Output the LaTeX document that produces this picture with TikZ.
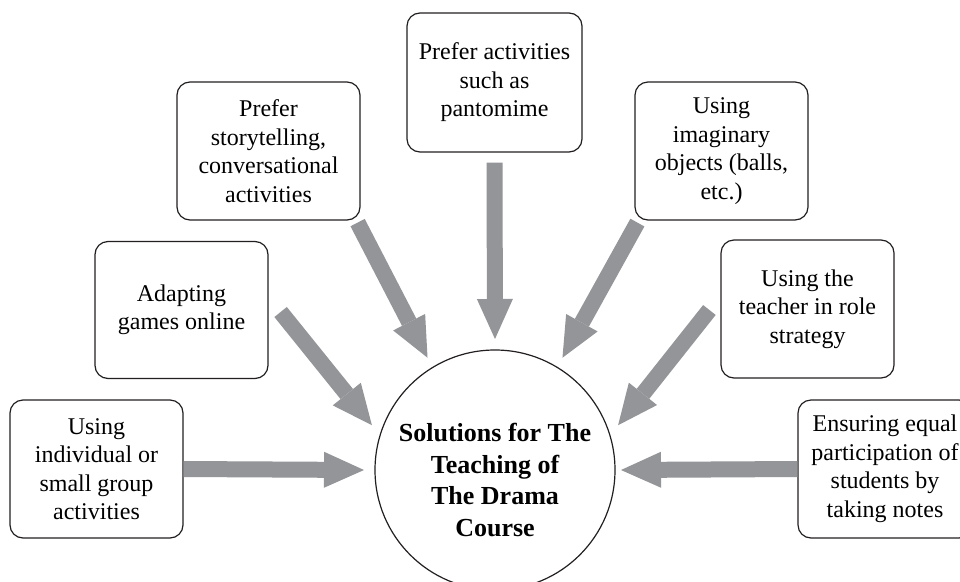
\documentclass[tikz,border=0pt]{standalone}
\usepackage{fontspec}
\setmainfont{Liberation Serif}
\newfontfamily\boxfont{Liberation Serif}
\usetikzlibrary{arrows.meta}
\definecolor{arrowgray}{HTML}{939598}
\definecolor{linedark}{HTML}{231F20}
\begin{document}
\begin{tikzpicture}[x=1pt,y=-1pt,
  box/.style={draw=linedark, line width=1.2pt, rounded corners=13pt, fill=white,
    align=center, inner sep=0pt, font=\boxfont\fontsize{24}{28.5}\selectfont},
  hub/.style={draw=linedark, line width=1.2pt, circle, minimum size=240pt, inner sep=0pt, outer sep=11pt},
  hubtext/.style={align=center, inner sep=0pt, font=\boxfont\bfseries\fontsize{26}{31.5}\selectfont},
  bigarrow/.style={draw=arrowgray, line width=16pt,
    -{Triangle[length=40pt,width=36pt,line width=0pt]}}]
\useasboundingbox (0,0) rectangle (960,581);
\fill[white] (0,0) rectangle (960,581);

\node[hub] (c) at (495,470) {};
\node[hubtext] (ct) at (495,480) {Solutions for The\\Teaching of\\The Drama\\Course};

\node[box, minimum width=173pt, minimum height=138pt] (b1) at (96.5,469) {Using\\individual or\\small group\\activities};
\node[box, minimum width=173pt, minimum height=137pt] (b2) at (181.5,310) {Adapting\\games online};
\node[box, minimum width=183pt, minimum height=138pt] (b3) at (268.5,151) {Prefer\\storytelling,\\conversational\\activities};
\node[box, minimum width=175pt, minimum height=139pt] (b4) at (494.5,82.5) {Prefer activities\\such as\\pantomime};
\node[box, minimum width=173pt, minimum height=138pt] (b5) at (721.5,151) {Using\\imaginary\\objects (balls,\\etc.)};
\node[box, minimum width=173pt, minimum height=138pt] (b6) at (807.5,309) {Using the\\teacher in role\\strategy};
\node[box, minimum width=174pt, minimum height=138pt] (b7) at (885,469) {Ensuring equal\\participation of\\students by\\taking notes};

\draw[bigarrow] (b1.east) -- (c.180);
\draw[bigarrow] ([shift={(12,2)}]b2.east) -- (c.160);
\draw[bigarrow] ([shift={(-3,2)}]b3.south east) -- (c.121);
\draw[bigarrow] ([shift={(0,10)}]b4.south) -- (c.90);
\draw[bigarrow] ([shift={(3,2)}]b5.south west) -- (c.59);
\draw[bigarrow] ([shift={(-11,1)}]b6.west) -- (c.20);
\draw[bigarrow] (b7.west) -- ([shift={(-5,0)}]c.0);
\end{tikzpicture}
\end{document}
